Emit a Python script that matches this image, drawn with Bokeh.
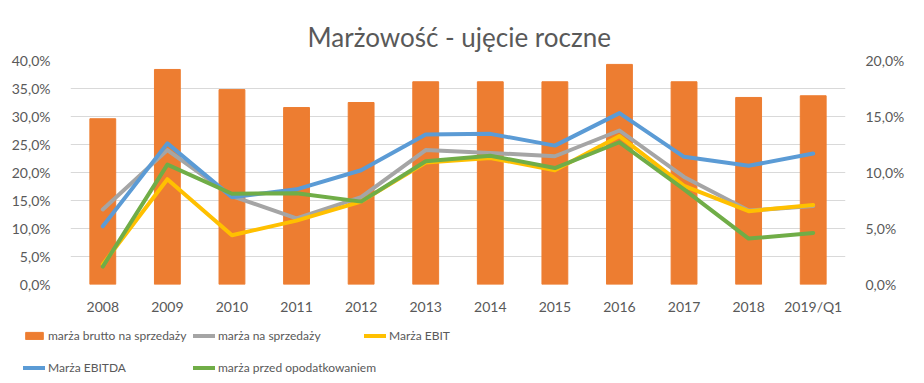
from bokeh.plotting import figure
from bokeh.models import (ColumnDataSource, FactorRange, Range1d, LinearAxis, FixedTicker,
                          Legend, LegendItem)
from bokeh.embed import file_html
from bokeh.resources import INLINE

years = ["2008", "2009", "2010", "2011", "2012", "2013", "2014", "2015", "2016", "2017", "2018", "2019/Q1"]
brutto = [29.6, 38.4, 34.8, 31.6, 32.5, 36.2, 36.2, 36.2, 39.3, 36.2, 33.4, 33.7]
sprzedaz = [6.7, 12.0, 7.9, 5.9, 7.8, 12.0, 11.75, 11.45, 13.75, 9.6, 6.6, 7.0]
ebit = [1.8, 9.4, 4.4, 5.7, 7.4, 10.9, 11.3, 10.2, 13.25, 8.8, 6.55, 7.1]
ebitda = [5.2, 12.6, 7.8, 8.5, 10.2, 13.4, 13.45, 12.4, 15.3, 11.4, 10.6, 11.7]
przed_opod = [1.6, 10.7, 8.1, 8.15, 7.4, 11.0, 11.5, 10.4, 12.7, 8.5, 4.1, 4.6]
left_ticks = [0, 5, 10, 15, 20, 25, 30, 35, 40]
right_ticks = [0, 5, 10, 15, 20]
title_text = "Marżowość - ujęcie roczne"
series_labels = ["marża brutto na sprzedaży", "marża na sprzedaży", "Marża EBIT",
                 "Marża EBITDA", "marża przed opodatkowaniem"]

FONT = "Lato"
TXT = "#595959"
BAR_COLOR = "#ED7D31"
LINE_COLORS = ["#A5A5A5", "#FFC000", "#5B9BD5", "#70AD47"]
LINE_COLS = ["sprzedaz", "ebit", "ebitda", "przed"]

src = ColumnDataSource(dict(x=years, brutto=brutto, sprzedaz=sprzedaz, ebit=ebit,
                            ebitda=ebitda, przed=przed_opod))

p = figure(width=924, height=320, x_range=FactorRange(*years, range_padding=0),
           y_range=Range1d(0, 40), output_backend="svg", toolbar_location=None,
           min_border_left=70, min_border_right=79, min_border_top=60, min_border_bottom=36)
p.extra_y_ranges = {"r": Range1d(0, 20)}

p.title.text = title_text
p.title.align = "left"
p.title.offset = 237
p.title.standoff = 16
p.title.text_font = FONT
p.title.text_font_size = "26px"
p.title.text_font_style = "normal"
p.title.text_color = TXT

p.outline_line_color = None
p.xgrid.grid_line_color = None
p.ygrid.grid_line_color = "#d9d9d9"
p.ygrid.grid_line_width = 1
p.ygrid.ticker = FixedTicker(ticks=left_ticks)

def style_axis(ax):
    ax.axis_line_color = None
    ax.major_tick_line_color = None
    ax.minor_tick_line_color = None
    ax.major_label_text_font = FONT
    ax.major_label_text_font_size = "14px"
    ax.major_label_text_color = TXT

p.yaxis.ticker = FixedTicker(ticks=left_ticks)
p.yaxis.major_label_overrides = {t: f"{t},0%" for t in left_ticks}
style_axis(p.yaxis[0])
p.yaxis.major_label_standoff = 14

p.xaxis.major_label_standoff = 7
style_axis(p.xaxis[0])

rax = LinearAxis(y_range_name="r", ticker=FixedTicker(ticks=right_ticks))
rax.major_label_overrides = {t: f"{t},0%" for t in right_ticks}
style_axis(rax)
rax.major_label_standoff = 14
p.add_layout(rax, "right")

p.vbar(x="x", top="brutto", width=0.4, source=src, color=BAR_COLOR)
for col, color in zip(LINE_COLS, LINE_COLORS):
    p.line(x="x", y=col, source=src, y_range_name="r", line_color=color,
           line_width=4, line_join="round", line_cap="round")

# legend panel: a separate figure whose ranges keep the series out of view,
# so only the legends are visible (and they are not clipped by the main frame)
lg = figure(width=924, height=63, x_range=FactorRange(*years), y_range=Range1d(1000, 1001),
            x_axis_type=None, y_axis_type=None, output_backend="svg", toolbar_location=None,
            min_border=0, outline_line_color=None)
lg.xgrid.visible = False
lg.ygrid.visible = False
rr = [lg.vbar(x="x", top="brutto", width=0.4, source=src, color=BAR_COLOR)]
for col, color in zip(LINE_COLS, LINE_COLORS):
    rr.append(lg.line(x="x", y=col, source=src, line_color=color, line_width=4,
                      line_cap="round"))
items = [LegendItem(label=l, renderers=[r]) for l, r in zip(series_labels, rr)]

def make_legend(its, loc):
    lgd = Legend(items=its, location=loc, orientation="vertical")
    lgd.label_text_font = FONT
    lgd.label_text_font_size = "12px"
    lgd.label_text_color = TXT
    lgd.glyph_width = 22
    lgd.glyph_height = 9
    lgd.label_standoff = 3
    lgd.label_height = 20
    lgd.spacing = 12
    lgd.padding = 0
    lgd.margin = 0
    lgd.border_line_color = None
    lgd.background_fill_alpha = 0
    return lgd

lg.add_layout(make_legend([items[0], items[3]], (23, 6)), "center")
lg.add_layout(make_legend([items[1], items[4]], (193, 6)), "center")
lg.add_layout(make_legend([items[2]], (364, 38)), "center")

open("out.html", "w").write(file_html([p, lg], INLINE))
